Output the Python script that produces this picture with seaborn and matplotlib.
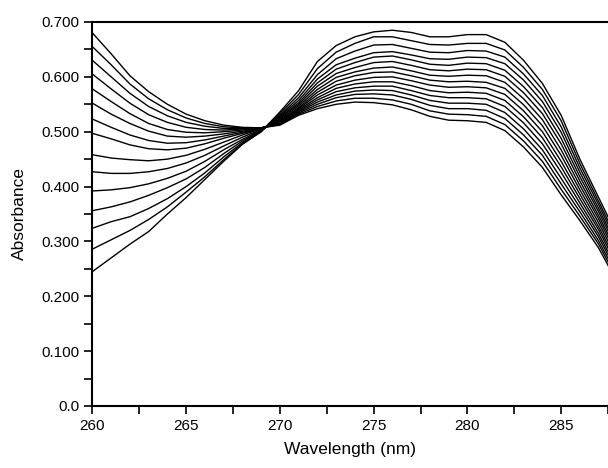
import seaborn as sns
import pandas as pd
import numpy as np
from matplotlib import pyplot as plt
from matplotlib.ticker import MultipleLocator, FuncFormatter

wavelength = list(range(260, 289))

# one column of absorbance per wavelength, 15 spectra (row 0 = highest at 260 nm)
col_260 = [0.680, 0.655, 0.630, 0.605, 0.578, 0.552, 0.523, 0.497, 0.458, 0.427, 0.392, 0.356, 0.324, 0.286, 0.245]
col_261 = [0.642, 0.622, 0.600, 0.578, 0.555, 0.532, 0.508, 0.487, 0.452, 0.424, 0.394, 0.363, 0.336, 0.303, 0.270]
col_262 = [0.602, 0.587, 0.570, 0.552, 0.533, 0.515, 0.494, 0.476, 0.449, 0.424, 0.398, 0.372, 0.345, 0.320, 0.295]
col_263 = [0.573, 0.560, 0.546, 0.531, 0.515, 0.501, 0.484, 0.469, 0.447, 0.427, 0.405, 0.384, 0.360, 0.340, 0.318]
col_264 = [0.550, 0.540, 0.529, 0.517, 0.504, 0.492, 0.479, 0.467, 0.450, 0.433, 0.415, 0.398, 0.378, 0.363, 0.350]
col_265 = [0.532, 0.525, 0.517, 0.508, 0.499, 0.490, 0.480, 0.470, 0.457, 0.443, 0.428, 0.414, 0.400, 0.390, 0.380]
col_266 = [0.520, 0.515, 0.510, 0.504, 0.498, 0.492, 0.485, 0.478, 0.468, 0.457, 0.446, 0.435, 0.425, 0.418, 0.413]
col_267 = [0.512, 0.509, 0.506, 0.503, 0.500, 0.496, 0.492, 0.488, 0.481, 0.474, 0.467, 0.460, 0.454, 0.449, 0.446]
col_268 = [0.508, 0.507, 0.506, 0.505, 0.503, 0.501, 0.499, 0.497, 0.494, 0.490, 0.486, 0.483, 0.480, 0.478, 0.477]
col_269 = [0.507, 0.507, 0.507, 0.507, 0.507, 0.506, 0.506, 0.505, 0.505, 0.504, 0.503, 0.502, 0.501, 0.500, 0.500]
col_270 = [0.512, 0.513, 0.514, 0.515, 0.516, 0.518, 0.519, 0.520, 0.522, 0.524, 0.526, 0.528, 0.530, 0.533, 0.536]
col_271 = [0.530, 0.532, 0.534, 0.536, 0.538, 0.540, 0.542, 0.544, 0.547, 0.550, 0.553, 0.557, 0.562, 0.568, 0.575]
col_272 = [0.542, 0.546, 0.550, 0.554, 0.558, 0.562, 0.567, 0.572, 0.577, 0.583, 0.589, 0.596, 0.604, 0.615, 0.628]
col_273 = [0.550, 0.556, 0.562, 0.567, 0.573, 0.579, 0.585, 0.592, 0.599, 0.606, 0.614, 0.622, 0.633, 0.645, 0.657]
col_274 = [0.554, 0.561, 0.568, 0.574, 0.580, 0.587, 0.594, 0.602, 0.609, 0.617, 0.626, 0.634, 0.647, 0.661, 0.673]
col_275 = [0.553, 0.561, 0.569, 0.576, 0.583, 0.591, 0.599, 0.608, 0.616, 0.626, 0.636, 0.644, 0.658, 0.673, 0.682]
col_276 = [0.549, 0.558, 0.567, 0.575, 0.583, 0.591, 0.600, 0.609, 0.618, 0.628, 0.638, 0.646, 0.659, 0.673, 0.685]
col_277 = [0.540, 0.550, 0.559, 0.567, 0.575, 0.584, 0.593, 0.602, 0.611, 0.621, 0.631, 0.640, 0.652, 0.666, 0.681]
col_278 = [0.528, 0.538, 0.548, 0.557, 0.566, 0.575, 0.585, 0.594, 0.603, 0.613, 0.623, 0.633, 0.645, 0.659, 0.673]
col_279 = [0.521, 0.532, 0.542, 0.552, 0.562, 0.571, 0.581, 0.591, 0.601, 0.611, 0.621, 0.632, 0.644, 0.658, 0.673]
col_280 = [0.520, 0.531, 0.542, 0.552, 0.562, 0.572, 0.582, 0.592, 0.603, 0.614, 0.625, 0.636, 0.648, 0.661, 0.677]
col_281 = [0.517, 0.528, 0.539, 0.550, 0.560, 0.570, 0.580, 0.590, 0.602, 0.613, 0.624, 0.635, 0.647, 0.661, 0.677]
col_282 = [0.502, 0.513, 0.524, 0.535, 0.546, 0.557, 0.568, 0.579, 0.590, 0.601, 0.612, 0.624, 0.636, 0.649, 0.663]
col_283 = [0.472, 0.483, 0.494, 0.505, 0.516, 0.527, 0.538, 0.549, 0.560, 0.571, 0.582, 0.594, 0.605, 0.617, 0.630]
col_284 = [0.435, 0.446, 0.457, 0.467, 0.478, 0.489, 0.500, 0.511, 0.522, 0.533, 0.544, 0.555, 0.566, 0.577, 0.588]
col_285 = [0.385, 0.395, 0.405, 0.415, 0.426, 0.436, 0.446, 0.457, 0.467, 0.478, 0.488, 0.499, 0.509, 0.520, 0.530]
col_286 = [0.338, 0.346, 0.354, 0.362, 0.370, 0.378, 0.386, 0.394, 0.402, 0.410, 0.418, 0.426, 0.434, 0.442, 0.450]
col_287 = [0.288, 0.295, 0.301, 0.308, 0.314, 0.321, 0.327, 0.334, 0.341, 0.347, 0.354, 0.360, 0.367, 0.373, 0.380]
col_288 = [0.225, 0.231, 0.237, 0.243, 0.249, 0.255, 0.261, 0.267, 0.273, 0.279, 0.285, 0.291, 0.297, 0.303, 0.310]

columns = [col_260, col_261, col_262, col_263, col_264, col_265, col_266, col_267, col_268,
           col_269, col_270, col_271, col_272, col_273, col_274, col_275, col_276, col_277,
           col_278, col_279, col_280, col_281, col_282, col_283, col_284, col_285, col_286,
           col_287, col_288]

rows = []
for wl, col in zip(wavelength, columns):
    for k, a in enumerate(col):
        rows.append({'wavelength': wl, 'absorbance': a, 'spectrum': k})
df = pd.DataFrame(rows)

sns.set_theme(style="ticks")
plt.rcParams['font.family'] = ['Liberation Sans', 'DejaVu Sans']

fig = plt.figure(figsize=(6.08, 4.68), dpi=100)
ax = fig.add_axes([0.152, 0.1325, 0.848, 0.8205])

sns.lineplot(data=df, x='wavelength', y='absorbance', units='spectrum', estimator=None,
             color='black', linewidth=1.0, ax=ax)

ax.set_xlim(260, 287.5)
ax.set_ylim(0, 0.7)
ax.xaxis.set_major_locator(MultipleLocator(5))
ax.xaxis.set_minor_locator(MultipleLocator(2.5))
ax.yaxis.set_major_locator(MultipleLocator(0.1))
ax.yaxis.set_minor_locator(MultipleLocator(0.05))
ax.yaxis.set_major_formatter(FuncFormatter(lambda v, p: '0.0' if abs(v) < 1e-9 else f'{v:.3f}'))
ax.xaxis.set_major_formatter(FuncFormatter(lambda v, p: f'{v:.0f}'))

ax.tick_params(which='both', direction='out', length=6, width=1.2, colors='black',
               labelsize=11)
for side in ['left', 'bottom', 'top']:
    ax.spines[side].set_visible(True)
    ax.spines[side].set_linewidth(1.5)
    ax.spines[side].set_color('black')
ax.spines['right'].set_visible(False)

ax.set_xlabel('Wavelength (nm)', fontsize=12.5, labelpad=6, color='black')
ax.set_ylabel('Absorbance', fontsize=12.5, labelpad=10, color='black')

fig.savefig('out.png', dpi=100)
